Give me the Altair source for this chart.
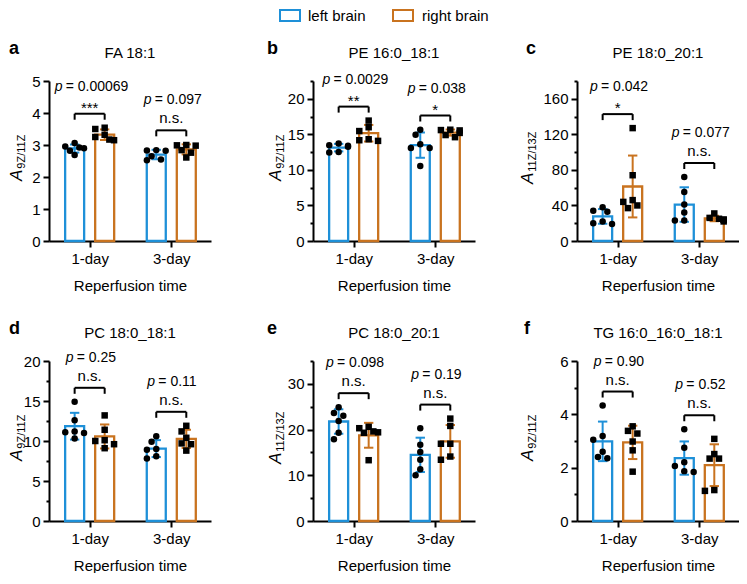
import altair as alt
import pandas as pd
import numpy as np

# ---------------- data ----------------
DAYS = ["1-day", "3-day"]
SIDES = ["left brain", "right brain"]
COLORS = ["#1E90D8", "#C9731F"]

LETTERS = ["a", "b", "c", "d", "e", "f"]
TITLES = ["FA 18:1", "PE 16:0_18:1", "PE 18:0_20:1",
          "PC 18:0_18:1", "PC 18:0_20:1", "TG 16:0_16:0_18:1"]
SUBSCRIPTS = ["9Z/11Z", "9Z/11Z", "11Z/13Z", "9Z/11Z", "11Z/13Z", "9Z/11Z"]
Y_MAX = [5, 22.5, 180, 20, 35, 6]
Y_MAJOR = [1, 5, 40, 5, 10, 2]
P_VALUES = [["0.00069", "0.097"], ["0.0029", "0.038"], ["0.042", "0.077"],
            ["0.25", "0.11"], ["0.098", "0.19"], ["0.90", "0.52"]]
SIG = [["***", "n.s."], ["**", "*"], ["*", "n.s."],
       ["n.s.", "n.s."], ["n.s.", "n.s."], ["n.s.", "n.s."]]

FA_L1 = [2.92, 2.90, 3.06, 2.95, 2.82, 2.69]
FA_R1 = [3.50, 3.54, 3.32, 3.25, 3.17, 3.15]
FA_L3 = [2.84, 2.82, 2.83, 2.65, 2.55, 2.52]
FA_R3 = [2.98, 3.00, 2.99, 2.84, 2.76, 2.61]

PE16_L1 = [13.48, 13.25, 13.39, 13.71, 12.52, 12.43]
PE16_R1 = [16.93, 16.00, 15.46, 14.31, 14.08, 14.17]
PE16_L3 = [15.64, 14.94, 13.62, 13.07, 13.07, 10.54]
PE16_R3 = [15.65, 15.60, 15.55, 15.20, 14.90, 14.60]

PE18_L1 = [34, 33, 38, 22, 20, 19]
PE18_R1 = [127, 74, 46, 44, 40, 37]
PE18_L3 = [72, 55, 41, 32, 23, 23]
PE18_R3 = [25, 26, 31, 22, 24, 24]

PC181_L1 = [14.9, 12.6, 11.2, 11.1, 11.0, 10.3]
PC181_R1 = [13.2, 11.4, 10.1, 10.0, 9.6, 9.1]
PC181_L3 = [10.6, 9.9, 9.0, 8.9, 8.1, 7.8]
PC181_R3 = [11.9, 11.2, 10.4, 9.7, 9.6, 8.8]

PC201_L1 = [24.9, 23.6, 23.0, 21.9, 19.3, 17.9]
PC201_R1 = [20.6, 20.3, 19.6, 19.4, 19.3, 13.3]
PC201_L3 = [20.3, 16.7, 15.1, 13.4, 11.3, 10.0]
PC201_R3 = [22.4, 20.8, 16.9, 16.9, 14.1, 13.4]

TG_L1 = [4.33, 3.19, 3.05, 2.60, 2.40, 2.35]
TG_R1 = [3.55, 3.38, 3.28, 2.98, 2.65, 1.85]
TG_L3 = [3.44, 2.75, 2.20, 2.06, 1.87, 1.84]
TG_R3 = [3.08, 2.51, 2.34, 2.34, 1.16, 1.13]

PANEL_VALUES = [
    [[FA_L1, FA_R1], [FA_L3, FA_R3]],
    [[PE16_L1, PE16_R1], [PE16_L3, PE16_R3]],
    [[PE18_L1, PE18_R1], [PE18_L3, PE18_R3]],
    [[PC181_L1, PC181_R1], [PC181_L3, PC181_R3]],
    [[PC201_L1, PC201_R1], [PC201_L3, PC201_R3]],
    [[TG_L1, TG_R1], [TG_L3, TG_R3]],
]

# ---------------- layout ----------------
FONT = "Liberation Sans"
W, H = 162, 160
GROUP_PX = 87.0
FIRST_PX = 38.0
SIDE_PX = 16.0
BAR_PX = 19
CAP_PX = 5.0
U = 1.0 / GROUP_PX
X_DOMAIN = [-FIRST_PX / GROUP_PX, (W - FIRST_PX) / GROUP_PX]
LETTER_X = [-40, -46, -51, -40, -46, -53]
YTITLE_X = [-27, -32, -44, -27, -32, -44]
P_FS = 14

AW = {".": .278, " ": .278, "=": .584, "p": .556}


def text_w(s, fs):
    return sum(AW.get(c, .556) for c in s) * fs


def swarm(vals, ppu, sep=6.5, step=5.0):
    order = sorted(range(len(vals)), key=lambda k: -vals[k])
    placed, offs = [], [0.0] * len(vals)
    cands = [0, -step, step, -2 * step, 2 * step]
    for k in order:
        yy = vals[k] * ppu
        c = cands[-1]
        for cand in cands:
            if all((cand - ox) ** 2 + (yy - oy) ** 2 >= sep ** 2 for ox, oy in placed):
                c = cand
                break
        placed.append((c, yy))
        offs[k] = c
    return offs


stroke_enc = alt.Stroke("side:N", scale=alt.Scale(domain=SIDES, range=COLORS), legend=None)


def panel(i):
    ymax = Y_MAX[i]
    yu = ymax / H
    major = Y_MAJOR[i]
    pts, bars, caps, brh, brv, sig, pit, prest = [], [], [], [], [], [], [], []
    for d, day in enumerate(DAYS):
        tops = []
        for s, side in enumerate(SIDES):
            vals = PANEL_VALUES[i][d][s]
            cx = d + (2 * s - 1) * SIDE_PX * U
            offs = swarm(vals, H / ymax)
            for v, o in zip(vals, offs):
                pts.append(dict(side=side, x=cx + o * U, v=v))
            m = float(np.mean(vals))
            sd = float(np.std(vals, ddof=1))
            bars.append(dict(side=side, x=cx, v=m, lo=m - sd, hi=m + sd))
            for yy in (m - sd, m + sd):
                caps.append(dict(side=side, x=cx - CAP_PX * U, x2=cx + CAP_PX * U, v=yy))
            tops += [max(vals), m + sd]
        yb = max(tops) + 14 * yu
        xl, xr = d - SIDE_PX * U, d + SIDE_PX * U
        brh.append(dict(x=xl, x2=xr, v=yb))
        for xx in (xl, xr):
            brv.append(dict(x=xx, v=yb, v2=yb - 6 * yu))
        lab = SIG[i][d]
        stars = lab != "n.s."
        sig.append(dict(x=d, v=yb + (1 if stars else 7) * yu, t=lab))
        py = yb + (23 if stars else 26) * yu
        rest = "= " + P_VALUES[i][d]
        wp = text_w("p", P_FS)
        ws = text_w(" ", P_FS)
        wr = text_w(rest, P_FS)
        left = d - (wp + ws + wr) / 2 * U
        pit.append(dict(x=left, v=py, t="p"))
        prest.append(dict(x=left + (wp + ws) * U, v=py, t=rest))

    xs = alt.Scale(domain=X_DOMAIN, nice=False, zero=False)
    ys = alt.Scale(domain=[0, ymax], nice=False, zero=True)
    xaxis = alt.Axis(values=[0, 1],
                     labelExpr="['%s','%s'][round(datum.value)]" % (DAYS[0], DAYS[1]),
                     title="Reperfusion time", titleFontSize=15, titleFontWeight="normal",
                     titlePadding=12, labelFontSize=15, labelPadding=4,
                     tickSize=6, tickWidth=2, domainWidth=2, grid=False, labelFlush=False)
    yvals = [round(k * major / 2, 4) for k in range(int(round(ymax / (major / 2))) + 1)]
    test = "abs(datum.value / %s - round(datum.value / %s)) < 1e-6" % (major, major)
    yaxis = alt.Axis(values=yvals, format="d", title=None,
                     labelExpr="(%s) ? datum.label : ''" % test,
                     tickSize={"condition": {"test": test, "value": 6}, "value": 3},
                     tickWidth=2, domainWidth=2, labelFontSize=15, labelPadding=3,
                     labelOverlap=False, grid=False)

    def X(f):
        return alt.X(f"{f}:Q", scale=xs, axis=xaxis)

    def Y(f):
        return alt.Y(f"{f}:Q", scale=ys, axis=yaxis)

    bar_l = alt.Chart(pd.DataFrame(bars)).mark_bar(
        size=BAR_PX, fill="white", strokeWidth=2.3).encode(
        x=X("x"), y=Y("v"), y2=alt.datum(0), stroke=stroke_enc)
    err_l = alt.Chart(pd.DataFrame(bars)).mark_rule(strokeWidth=2).encode(
        x=X("x"), y=Y("lo"), y2="hi:Q", stroke=stroke_enc)
    cap_l = alt.Chart(pd.DataFrame(caps)).mark_rule(strokeWidth=2).encode(
        x=X("x"), x2="x2:Q", y=Y("v"), stroke=stroke_enc)
    pt_l = alt.Chart(pd.DataFrame(pts)).mark_point(
        filled=True, size=42, opacity=1, color="black").encode(
        x=X("x"), y=Y("v"),
        shape=alt.Shape("side:N", scale=alt.Scale(domain=SIDES, range=["circle", "square"]),
                        legend=None))
    brh_l = alt.Chart(pd.DataFrame(brh)).mark_rule(strokeWidth=2, color="black").encode(
        x=X("x"), x2="x2:Q", y=Y("v"))
    brv_l = alt.Chart(pd.DataFrame(brv)).mark_rule(strokeWidth=2, color="black").encode(
        x=X("x"), y=Y("v"), y2="v2:Q")
    sig_l = alt.Chart(pd.DataFrame(sig)).mark_text(
        fontSize=15, baseline="alphabetic", align="center").encode(
        x=X("x"), y=Y("v"), text="t:N")
    pit_l = alt.Chart(pd.DataFrame(pit)).mark_text(
        fontSize=P_FS, fontStyle="italic", baseline="alphabetic", align="left").encode(
        x=X("x"), y=Y("v"), text="t:N")
    prest_l = alt.Chart(pd.DataFrame(prest)).mark_text(
        fontSize=P_FS, baseline="alphabetic", align="left").encode(
        x=X("x"), y=Y("v"), text="t:N")

    letter_l = alt.Chart(pd.DataFrame({"t": [LETTERS[i]]})).mark_text(
        fontSize=18, fontWeight="bold", align="left", baseline="alphabetic").encode(
        x=alt.value(LETTER_X[i]), y=alt.value(-27), text="t:N")
    title_l = alt.Chart(pd.DataFrame({"t": [TITLES[i]]})).mark_text(
        fontSize=15, align="center", baseline="alphabetic").encode(
        x=alt.value(W / 2), y=alt.value(-23), text="t:N")

    # y title: italic A with subscript
    fa, fsub = 17, 11
    wA = 0.667 * fa
    wS = text_w(SUBSCRIPTS[i], fsub)
    L = wA + wS
    junction = H / 2 - 4 + L / 2 - wA
    ya_l = alt.Chart(pd.DataFrame({"t": ["A"]})).mark_text(
        fontSize=fa, fontStyle="italic", angle=270, align="right", baseline="alphabetic").encode(
        x=alt.value(YTITLE_X[i]), y=alt.value(junction), text="t:N")
    ysub_l = alt.Chart(pd.DataFrame({"t": [SUBSCRIPTS[i]]})).mark_text(
        fontSize=fsub, angle=270, align="left", baseline="alphabetic").encode(
        x=alt.value(YTITLE_X[i] + 3), y=alt.value(junction - 1), text="t:N")

    layers = [bar_l, err_l, cap_l, pt_l, brh_l, brv_l, sig_l, pit_l, prest_l,
              letter_l, title_l, ya_l, ysub_l]

    if i == 1:
        leg = pd.DataFrame({"side": SIDES, "x": [-33, 80], "tx": [-5, 109]})
        for k, side in enumerate(SIDES):
            one = leg.iloc[[k]]
            layers.append(alt.Chart(one).mark_rect(
                fill="white", stroke=COLORS[k], strokeWidth=2).encode(
                x=alt.value(float(one["x"].iloc[0])), x2=alt.value(float(one["x"].iloc[0]) + 20),
                y=alt.value(-71), y2=alt.value(-60)))
            layers.append(alt.Chart(one).mark_text(
                fontSize=15, align="left", baseline="middle").encode(
                x=alt.value(float(one["tx"].iloc[0])), y=alt.value(-65.5), text="side:N"))

    return alt.layer(*layers).properties(width=W, height=H)


panels = [panel(i) for i in range(6)]

chart = alt.concat(*panels, columns=3,
                   spacing=alt.RowColnumber(row=120, column=102),
                   bounds="flush", padding=0).configure_view(
    stroke=None
).configure_axis(
    labelFont=FONT, titleFont=FONT, labelColor="black", titleColor="black",
    domainColor="black", tickColor="black"
).configure_text(font=FONT, color="black")

chart.save("out.html", embed_options={"renderer": "svg", "actions": False})
